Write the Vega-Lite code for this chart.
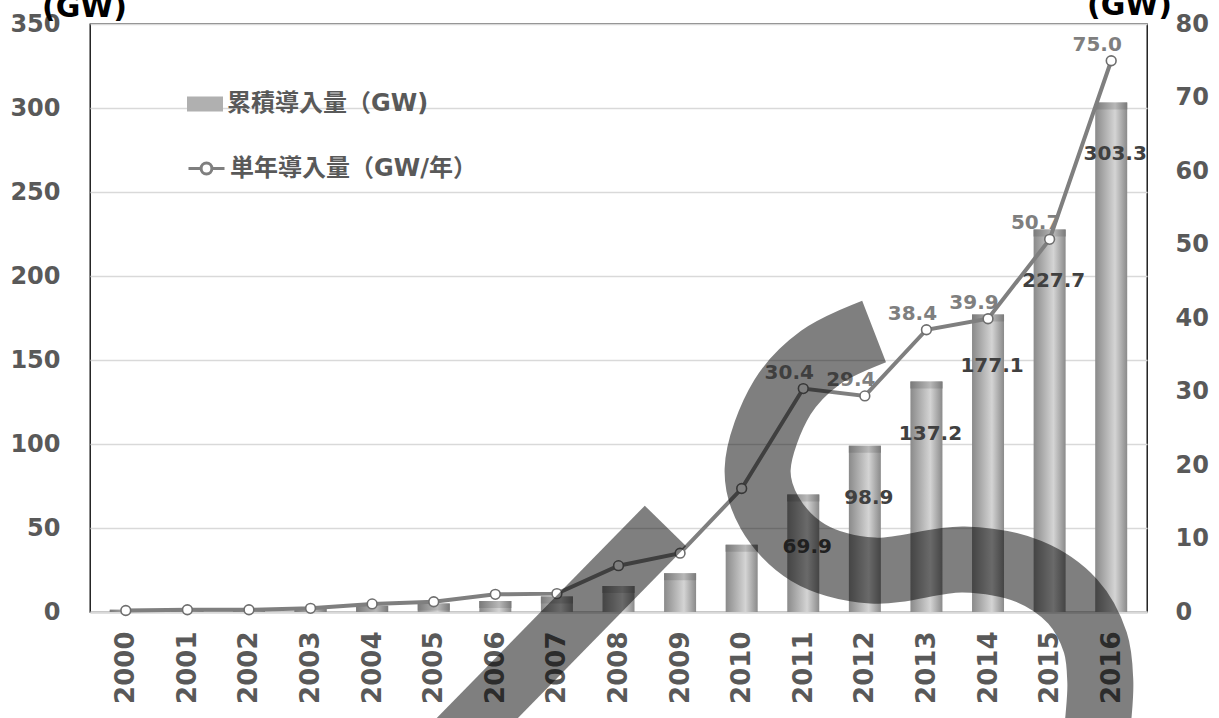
{
  "$schema": "https://vega.github.io/schema/vega-lite/v6.json",
  "width": 1057,
  "height": 588,
  "autosize": {"type": "none"},
  "padding": {"left": 90, "top": 24, "right": 72, "bottom": 106},
  "background": "#ffffff",
  "datasets": {
    "pv": [
      {"year": 2000, "cumulative": 1.3, "annual": 0.2},
      {"year": 2001, "cumulative": 1.6, "annual": 0.3},
      {"year": 2002, "cumulative": 2.0, "annual": 0.3},
      {"year": 2003, "cumulative": 2.6, "annual": 0.5},
      {"year": 2004, "cumulative": 3.7, "annual": 1.1},
      {"year": 2005, "cumulative": 5.1, "annual": 1.4},
      {"year": 2006, "cumulative": 6.6, "annual": 2.4},
      {"year": 2007, "cumulative": 9.2, "annual": 2.5},
      {"year": 2008, "cumulative": 15.5, "annual": 6.3},
      {"year": 2009, "cumulative": 23.0, "annual": 8.0},
      {"year": 2010, "cumulative": 40.0, "annual": 16.8},
      {"year": 2011, "cumulative": 69.9, "annual": 30.4},
      {"year": 2012, "cumulative": 98.9, "annual": 29.4},
      {"year": 2013, "cumulative": 137.2, "annual": 38.4},
      {"year": 2014, "cumulative": 177.1, "annual": 39.9},
      {"year": 2015, "cumulative": 227.7, "annual": 50.7},
      {"year": 2016, "cumulative": 303.3, "annual": 75.0}
    ],
    "swoosh": [
      {"shape": "arc", "k": 0, "year": 2012.15, "gw": 167.0},
      {"shape": "arc", "k": 1, "year": 2011.28, "gw": 151.5},
      {"shape": "arc", "k": 2, "year": 2010.66, "gw": 127.7},
      {"shape": "arc", "k": 3, "year": 2010.259, "gw": 84.8},
      {"shape": "arc", "k": 4, "year": 2010.452, "gw": 59.2},
      {"shape": "arc", "k": 5, "year": 2011.079, "gw": 35.4},
      {"shape": "arc", "k": 6, "year": 2012.125, "gw": 24.7},
      {"shape": "arc", "k": 7, "year": 2013.604, "gw": 31.3},
      {"shape": "arc", "k": 8, "year": 2014.665, "gw": 24.1},
      {"shape": "arc", "k": 9, "year": 2015.373, "gw": 6.3},
      {"shape": "arc", "k": 10, "year": 2015.743, "gw": -18.2},
      {"shape": "arc", "k": 11, "year": 2015.823, "gw": -41.4},
      {"shape": "arc", "k": 12, "year": 2015.792, "gw": -62.8},
      {"shape": "arc", "k": 13, "year": 2015.711, "gw": -87.8},
      {"shape": "bar", "k": 0, "year": 2008.763, "gw": 51.2},
      {"shape": "bar", "k": 1, "year": 2005.048, "gw": -87.8}
    ]
  },
  "config": {
    "view": {"stroke": "#000000", "strokeWidth": 1.3},
    "axis": {
      "labelFont": "DejaVu Sans",
      "labelFontWeight": "bold",
      "labelColor": "#595959",
      "ticks": false,
      "domain": false,
      "grid": false
    },
    "legend": {"labelLimit": 400},
    "text": {"font": "DejaVu Sans", "fontWeight": "bold"}
  },
  "encoding": {
    "x": {
      "field": "year",
      "type": "quantitative",
      "scale": {"domain": [1999.5, 2016.5], "nice": false, "zero": false},
      "axis": {
        "orient": "bottom",
        "title": null,
        "values": [2000, 2001, 2002, 2003, 2004, 2005, 2006, 2007, 2008, 2009, 2010, 2011, 2012, 2013, 2014, 2015, 2016],
        "format": "d",
        "labelAngle": -90,
        "labelFontSize": 26,
        "labelPadding": 19,
        "labelFlush": false,
        "labelOverlap": false,
        "domain": true,
        "domainColor": "#d9d9d9",
        "domainWidth": 2.5
      }
    }
  },
  "layer": [
    {
      "data": {"name": "pv"},
      "encoding": {
        "y": {
          "field": "cumulative",
          "type": "quantitative",
          "scale": {"domain": [0, 350], "nice": false},
          "axis": {
            "orient": "left",
            "values": [0, 50, 100, 150, 200, 250, 300, 350],
            "grid": true,
            "gridColor": "#d9d9d9",
            "gridWidth": 1.3,
            "labelFontSize": 24,
            "labelPadding": 30,
            "title": "(GW)",
            "titleAngle": 0,
            "titleX": -6,
            "titleY": -8,
            "titleAlign": "center",
            "titleBaseline": "alphabetic",
            "titleFont": "DejaVu Sans",
            "titleFontSize": 30,
            "titleFontWeight": "bold",
            "titleColor": "#000000"
          }
        }
      },
      "layer": [
        {
          "mark": {
            "type": "bar",
            "orient": "vertical",
            "size": 32,
            "fill": {
              "gradient": "linear",
              "x1": 0, "y1": 0, "x2": 1, "y2": 0,
              "stops": [
                {"offset": 0, "color": "#8a8a8a"},
                {"offset": 0.62, "color": "#d4d4d4"},
                {"offset": 1, "color": "#8a8a8a"}
              ]
            }
          }
        },
        {
          "mark": {
            "type": "tick",
            "orient": "horizontal",
            "size": 32,
            "thickness": 7,
            "yOffset": 3.5,
            "clip": true,
            "opacity": 1,
            "color": {
              "gradient": "linear",
              "x1": 0, "y1": 0, "x2": 1, "y2": 0,
              "stops": [
                {"offset": 0, "color": "#7a7a7a"},
                {"offset": 0.62, "color": "#b8b8b8"},
                {"offset": 1, "color": "#7a7a7a"}
              ]
            }
          }
        },
        {
          "transform": [{"filter": "datum.year >= 2011"}],
          "mark": {"type": "text", "fontSize": 20, "color": "#404040", "dx": 4, "dy": 52, "baseline": "middle"},
          "encoding": {"text": {"field": "cumulative", "type": "quantitative", "format": ".1f"}}
        }
      ]
    },
    {
      "data": {"name": "pv"},
      "encoding": {
        "y": {
          "field": "annual",
          "type": "quantitative",
          "scale": {"domain": [0, 80], "nice": false},
          "axis": {
            "orient": "right",
            "values": [0, 10, 20, 30, 40, 50, 60, 70, 80],
            "labelFontSize": 24,
            "labelPadding": 28,
            "title": "(GW)",
            "titleAngle": 0,
            "titleX": -18,
            "titleY": -10,
            "titleAlign": "center",
            "titleBaseline": "alphabetic",
            "titleFont": "DejaVu Sans",
            "titleFontSize": 30,
            "titleFontWeight": "bold",
            "titleColor": "#000000"
          }
        }
      },
      "layer": [
        {
          "mark": {"type": "line", "strokeWidth": 4},
          "encoding": {
            "stroke": {
              "datum": "単年導入量（GW/年）",
              "type": "nominal",
              "scale": {"range": ["#7f7f7f"]},
              "legend": {
                "orient": "none",
                "legendX": 97,
                "legendY": 125,
                "title": null,
                "padding": 0,
                "symbolType": "M-1,0H-0.3M0.3,0H1M0.3,0A0.3,0.3,0,1,1,-0.3,0A0.3,0.3,0,1,1,0.3,0",
                "symbolSize": 1296,
                "symbolStrokeWidth": 3,
                "symbolFillColor": "#ffffff",
                "labelFont": "DejaVu Sans, Noto Sans CJK JP",
                "labelFontSize": 24,
                "labelFontWeight": "bold",
                "labelColor": "#595959",
                "labelLimit": 400,
                "labelOffset": 4
              }
            }
          }
        },
        {
          "mark": {"type": "circle", "size": 95, "fill": "#ffffff", "stroke": "#6e6e6e", "strokeWidth": 1.6, "opacity": 1}
        },
        {
          "transform": [{"filter": "datum.year >= 2011"}],
          "mark": {"type": "text", "fontSize": 20, "color": "#7f7f7f", "dx": -14, "dy": -16, "baseline": "middle"},
          "encoding": {"text": {"field": "annual", "type": "quantitative", "format": ".1f"}}
        }
      ]
    },
    {
      "data": {"name": "pv"},
      "mark": {"type": "point", "opacity": 0, "size": 1},
      "encoding": {
        "y": {"field": "cumulative", "type": "quantitative", "scale": {"domain": [0, 350], "nice": false}, "axis": null},
        "fill": {
          "datum": "累積導入量（GW)",
          "type": "nominal",
          "scale": {"range": ["#b0b0b0"]},
          "legend": {
            "orient": "none",
            "legendX": 97,
            "legendY": 62,
            "title": null,
            "padding": 0,
            "symbolType": "M-1,-0.42H1V0.42H-1Z",
            "symbolSize": 1296,
            "symbolStrokeWidth": 0,
            "symbolOpacity": 1,
            "labelFont": "DejaVu Sans, Noto Sans CJK JP",
            "labelFontSize": 24,
            "labelFontWeight": "bold",
            "labelColor": "#595959",
            "labelLimit": 400,
            "labelOffset": 4,
            "encode": {
              "symbols": {
                "update": {
                  "fill": {
                    "value": {
                      "gradient": "linear",
                      "x1": 0, "y1": 0, "x2": 1, "y2": 0,
                      "stops": [
                        {"offset": 0, "color": "#8a8a8a"},
                        {"offset": 0.62, "color": "#d4d4d4"},
                        {"offset": 1, "color": "#8a8a8a"}
                      ]
                    }
                  },
                  "opacity": {"value": 1}
                }
              }
            }
          }
        }
      }
    },
    {
      "data": {"name": "swoosh"},
      "encoding": {
        "y": {
          "field": "gw",
          "type": "quantitative",
          "scale": {"domain": [0, 350], "nice": false},
          "axis": null
        },
        "order": {"field": "k", "type": "quantitative"},
        "detail": {"field": "shape", "type": "nominal"}
      },
      "layer": [
        {
          "transform": [{"filter": "datum.shape === 'arc'"}],
          "mark": {"type": "line", "stroke": "#000000", "strokeOpacity": 0.5, "strokeWidth": 66, "strokeCap": "butt", "strokeJoin": "round", "interpolate": "catmull-rom", "clip": false}
        },
        {
          "transform": [{"filter": "datum.shape === 'bar'"}],
          "mark": {"type": "line", "stroke": "#000000", "strokeOpacity": 0.5, "strokeWidth": 58, "strokeCap": "butt", "strokeJoin": "round", "clip": false}
        }
      ]
    }
  ],
  "resolve": {"scale": {"y": "independent"}}
}
